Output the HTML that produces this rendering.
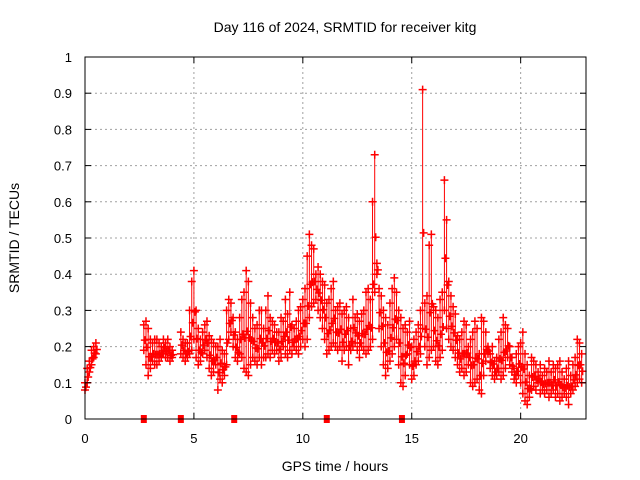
<!DOCTYPE html>
<html><head><meta charset="utf-8"><style>
body{margin:0;background:#fff}
svg{display:block;font-family:"Liberation Sans",sans-serif}
</style></head><body>
<svg id="chart" width="640" height="480" viewBox="0 0 640 480">
<rect width="640" height="480" fill="#fff"/>
<g id="grid"></g>
<g id="marks"></g>
<rect x="85" y="57" width="501" height="362" fill="none" stroke="#000" stroke-width="1"/>
<g id="ticks"></g>
<text x="345" y="32" font-size="14" text-anchor="middle">Day 116 of 2024, SRMTID for receiver kitg</text>
<text x="19" y="238" font-size="14" text-anchor="middle" transform="rotate(-90 19 238)">SRMTID / TECUs</text>
<text x="335" y="471" font-size="14" text-anchor="middle">GPS time / hours</text>
</svg>
<script>
const xTicks=[0,5,10,15,20];
const yTicks=[0,0.1,0.2,0.3,0.4,0.5,0.6,0.7,0.8,0.9,1];
const yTickLabels=["0","0.1","0.2","0.3","0.4","0.5","0.6","0.7","0.8","0.9","1"];
const tStep=0.1;
const N=null;
const loVals=[0.08,0.10,0.13,0.15,0.17,0.18,
N,N,N,N,N,N,N,N,N,N,N,N,N,N,N,N,N,N,N,N,N,
0.19,0.15,0.12,0.14,0.16,0.15,
0.15,0.16,0.17,0.18,0.17,0.17,0.16,0.17,
N,N,N,
0.18,0.17,0.16,0.17,0.18,0.19,0.22,
0.17,0.15,0.16,0.18,0.19,0.17,0.14,0.12,0.13,0.15,
0.08,0.11,0.10,0.12,0.15,0.22,0.24,0.20,0.17,0.16,
0.18,0.17,0.14,0.13,0.12,0.15,0.17,0.16,0.15,0.17,
0.15,0.17,0.17,0.18,0.17,0.19,0.18,0.19,0.16,0.17,
0.20,0.18,0.17,0.19,0.18,0.20,0.19,0.18,0.20,0.22,
0.20,0.22,0.28,0.31,0.32,0.33,0.30,0.28,0.25,0.22,
0.18,0.19,0.20,0.21,0.20,0.19,0.20,0.16,0.19,0.20,
0.15,0.19,0.20,0.21,0.19,0.17,0.20,0.19,0.18,0.19,
0.20,0.22,0.35,0.40,0.25,0.20,0.15,0.12,0.14,0.16,
0.18,0.20,0.22,0.15,0.10,0.09,0.12,0.18,0.15,0.11,
0.12,0.15,0.16,0.18,0.25,0.20,0.15,0.17,0.19,0.20,
0.16,0.15,0.17,0.19,0.30,0.25,0.22,0.20,0.19,0.17,
0.15,0.13,0.14,0.12,0.13,0.15,0.10,0.09,0.10,0.11,
0.08,0.07,0.12,0.16,0.18,0.14,0.12,0.11,0.12,0.13,
0.11,0.12,0.14,0.17,0.15,0.13,0.11,0.10,0.12,0.10,
0.07,0.05,0.04,0.06,0.08,0.09,0.08,0.10,0.07,0.08,
0.07,0.08,0.06,0.07,0.08,0.06,0.07,0.05,0.06,0.07,
0.06,0.04,0.07,0.08,0.09,0.10,0.11,0.10];
const hiVals=[0.10,0.14,0.16,0.19,0.20,0.21,
N,N,N,N,N,N,N,N,N,N,N,N,N,N,N,N,N,N,N,N,N,
0.26,0.27,0.25,0.22,0.21,0.22,
0.22,0.21,0.20,0.22,0.21,0.22,0.20,0.19,
N,N,N,
0.24,0.22,0.21,0.21,0.30,0.38,0.41,
0.30,0.25,0.22,0.24,0.26,0.27,0.23,0.22,0.21,0.20,
0.20,0.22,0.19,0.18,0.30,0.33,0.32,0.28,0.24,0.22,
0.28,0.33,0.35,0.41,0.38,0.32,0.28,0.25,0.26,0.30,
0.30,0.25,0.30,0.34,0.28,0.27,0.26,0.24,0.24,0.28,
0.27,0.33,0.29,0.35,0.26,0.25,0.27,0.30,0.31,0.33,
0.36,0.45,0.51,0.48,0.47,0.40,0.42,0.40,0.38,0.37,
0.32,0.33,0.36,0.38,0.30,0.31,0.32,0.29,0.30,0.31,
0.28,0.25,0.33,0.28,0.29,0.27,0.29,0.30,0.35,0.36,
0.33,0.60,0.73,0.43,0.36,0.34,0.30,0.28,0.26,0.32,
0.36,0.39,0.35,0.30,0.28,0.25,0.26,0.24,0.27,0.20,
0.22,0.24,0.26,0.30,0.91,0.32,0.34,0.48,0.51,0.31,
0.30,0.28,0.33,0.35,0.66,0.55,0.38,0.34,0.31,0.29,
0.23,0.22,0.24,0.27,0.26,0.20,0.22,0.24,0.27,0.25,
0.18,0.28,0.27,0.24,0.20,0.18,0.20,0.16,0.17,0.22,
0.24,0.28,0.26,0.25,0.20,0.17,0.14,0.18,0.20,0.21,
0.24,0.18,0.15,0.12,0.17,0.16,0.15,0.13,0.15,0.12,
0.14,0.13,0.16,0.13,0.15,0.14,0.15,0.16,0.13,0.11,
0.14,0.16,0.12,0.15,0.17,0.22,0.21,0.18];
const eventTimes=[2.7,4.4,6.85,11.1,14.55];
const NS='http://www.w3.org/2000/svg';
const X0=85,X1=586,Y0=419,Y1=57,XMAX=23;
function xs(t){return X0+t/XMAX*(X1-X0);}
function ys(v){return Y0-v*(Y0-Y1);}
function mk(tag,attrs,parent){const e=document.createElementNS(NS,tag);for(const k in attrs)e.setAttribute(k,attrs[k]);parent.appendChild(e);return e;}
const grid=document.getElementById('grid'),ticks=document.getElementById('ticks'),marks=document.getElementById('marks');
yTicks.forEach((v,i)=>{
 const y=ys(v);
 if(v>0&&v<1){const g=mk('line',{x1:X0,x2:X1,y1:y,y2:y,stroke:'#a0a0a0','stroke-dasharray':'2,3'},grid);
 
 }
 mk('line',{x1:X0,x2:X0+6,y1:y,y2:y,stroke:'#000'},ticks);
 mk('line',{x1:X1,x2:X1-6,y1:y,y2:y,stroke:'#000'},ticks);
 const t=mk('text',{x:72,y:y+5,'font-size':13,'text-anchor':'end'},ticks);t.textContent=yTickLabels[i];
 
 
});
xTicks.forEach(v=>{
 const x=xs(v);
 if(v>0){const g=mk('line',{x1:x,x2:x,y1:Y0,y2:Y1,stroke:'#a0a0a0','stroke-dasharray':'2,3'},grid);
 
 }
 mk('line',{x1:x,x2:x,y1:Y0,y2:Y0-6,stroke:'#000'},ticks);
 mk('line',{x1:x,x2:x,y1:Y1,y2:Y1+6,stroke:'#000'},ticks);
 const t=mk('text',{x:x,y:443,'font-size':13,'text-anchor':'middle'},ticks);t.textContent=String(v);
 
 
});
function plus(x,y){
 const p=mk('path',{d:`M${x-4} ${y}H${x+4}M${x} ${y-4}V${y+4}`,stroke:'#f00','stroke-width':1.5,fill:'none'},marks);
 
 
}
for(let i=0;i<loVals.length;i++){
 const lo=loVals[i],hi=hiVals[i];
 if(lo==null||hi==null)continue;
 const x=xs(i*tStep);
 const r=mk('line',{x1:x,x2:x,y1:ys(lo),y2:ys(hi),stroke:'#f00','stroke-width':1},marks);
 
 
 plus(x,ys(lo));plus(x,ys(hi));
 plus(x+1,ys(lo+(hi-lo)*0.4));
}
eventTimes.forEach(t=>{
 const r=mk('rect',{x:xs(t)-3,y:Y0-4,width:6,height:8,fill:'#f00'},marks);
 
 
});
</script>
</body></html>
